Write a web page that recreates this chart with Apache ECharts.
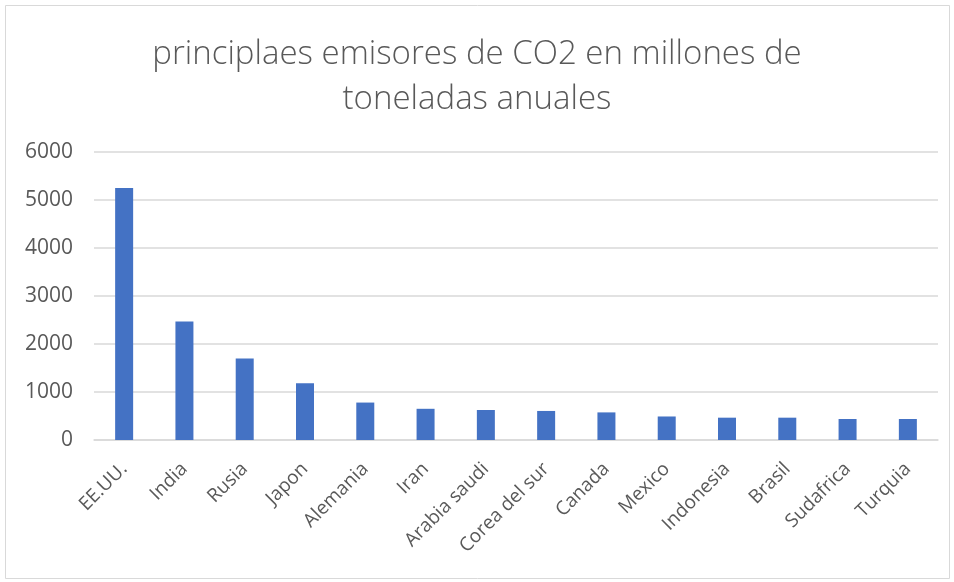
<!DOCTYPE html>
<html>
<head>
<meta charset="utf-8">
<script src="https://cdn.jsdelivr.net/npm/echarts@6/dist/echarts.min.js"></script>
<style>
  html, body { margin: 0; padding: 0; background: #ffffff; }
  #chart { width: 954px; height: 582px; }
</style>
</head>
<body>
<div id="chart"></div>
<script>
// Countries and annual CO2 emissions (million tonnes)
const countries = ['EE.UU.', 'India', 'Rusia', 'Japon', 'Alemania', 'Iran', 'Arabia saudi',
  'Corea del sur', 'Canada', 'Mexico', 'Indonesia', 'Brasil', 'Sudafrica', 'Turquia'];
const emissions = [5250, 2470, 1700, 1180, 780, 650, 625, 605, 575, 490, 465, 465, 438, 438];
const yTicks = [0, 1000, 2000, 3000, 4000, 5000, 6000];

const textColor = '#595959';
const font = '"Open Sans", "Noto Sans", sans-serif';

const chart = echarts.init(document.getElementById('chart'));
chart.setOption({
  animation: false,
  backgroundColor: '#ffffff',
  title: {
    text: 'principlaes emisores de CO2 en millones de\ntoneladas anuales',
    left: 'center',
    top: 27,
    textStyle: {
      color: textColor,
      fontFamily: font,
      fontWeight: 300,
      fontSize: 33,
      lineHeight: 45
    }
  },
  graphic: [{
    type: 'rect',
    shape: { x: 5.5, y: 5.5, width: 944, height: 573 },
    style: { fill: 'none', stroke: '#d9d9d9', lineWidth: 1 },
    silent: true
  }],
  grid: { left: 94, right: 16, top: 152, bottom: 142 },
  xAxis: {
    type: 'category',
    data: countries,
    axisTick: { show: false },
    axisLine: { lineStyle: { color: '#d9d9d9', width: 1.5 } },
    axisLabel: {
      rotate: 45,
      interval: 0,
      margin: 26,
      color: textColor,
      fontFamily: font,
      fontSize: 19
    }
  },
  yAxis: {
    type: 'value',
    min: yTicks[0],
    max: yTicks[yTicks.length - 1],
    interval: 1000,
    axisLine: { show: false },
    axisTick: { show: false },
    splitLine: { lineStyle: { color: '#d9d9d9', width: 1.5 } },
    axisLabel: {
      margin: 21,
      color: textColor,
      fontFamily: font,
      fontSize: 21,
      formatter: v => String(v)
    }
  },
  series: [{
    type: 'bar',
    data: emissions,
    barWidth: 18,
    itemStyle: { color: '#4472c4' }
  }]
});
</script>
</body>
</html>
